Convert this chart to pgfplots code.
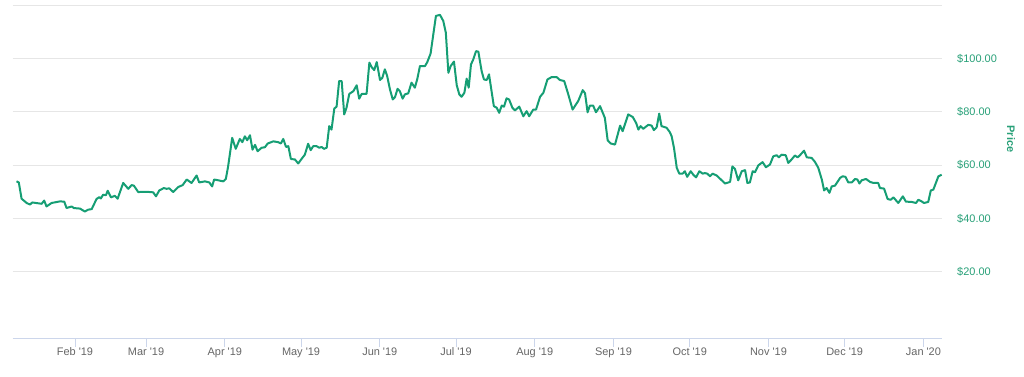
\documentclass[border=0pt]{standalone}
\usepackage{pgfplots}
\pgfplotsset{compat=1.18}
\usepackage{fontspec}
\setmainfont{Liberation Sans}
\definecolor{ln}{RGB}{22,158,116}
\definecolor{lab}{RGB}{40,160,120}
\definecolor{grd}{RGB}{230,230,230}
\definecolor{axl}{RGB}{204,214,235}
\definecolor{xl}{RGB}{102,102,102}
\begin{document}
\begin{tikzpicture}[x=1bp,y=1bp]
\path[use as bounding box] (0,0) rectangle (1024,376);
\begin{axis}[
  at={(12.7bp,38bp)}, anchor=south west,
  scale only axis, width=929bp, height=333bp,
  xmin=6.5, xmax=372.2, ymin=-4.8, ymax=120,
  separate axis lines,
  axis x line*=bottom, axis y line*=right,
  x axis line style={draw=axl, line width=0.8bp},
  y axis line style={draw=none},
  ymajorgrids, grid style={draw=grd, line width=0.8bp},
  ytick={20,40,60,80,100,120},
  yticklabels={\$20.00,\$40.00,\$60.00,\$80.00,\$100.00,},
  ytick style={draw=none},
  yticklabel style={font=\fontsize{11}{13}\selectfont, text=lab, anchor=west, xshift=12bp},
  xtick={31,59,90,120,151,181,212,243,273,304,334,365},
  xticklabels={Feb \textquotesingle19,Mar \textquotesingle19,Apr \textquotesingle19,May \textquotesingle19,Jun \textquotesingle19,Jul \textquotesingle19,Aug \textquotesingle19,Sep \textquotesingle19,Oct \textquotesingle19,Nov \textquotesingle19,Dec \textquotesingle19,Jan \textquotesingle20},
  xtick align=outside, major tick length=9bp,
  xtick style={draw=axl, line width=0.8bp},
  xticklabel style={font=\fontsize{11}{13}\selectfont, text=xl, yshift=2.5bp},
  clip=false,
]
\addplot[ln, line width=2bp, line join=round] coordinates {
(8.0,53.9)(8.9,53.5)(10.0,47.4)(12.0,45.8)(13.3,45.2)(14.2,46.0)(17.9,45.5)(18.9,46.7)(19.8,44.5)(21.8,45.8)
(25.1,46.4)(26.8,46.3)(27.7,43.9)(29.7,44.5)(30.6,43.9)(33.0,43.7)(34.9,42.6)(36.2,43.3)(37.6,43.5)(39.5,47.3)
(40.6,48.0)(41.2,47.5)(42.1,48.9)(43.2,48.7)(43.9,50.4)(45.2,47.9)(46.7,48.5)(47.8,47.4)(50.0,53.3)(52.0,51.1)
(53.3,52.5)(54.2,52.3)(55.9,49.9)(59.2,50.0)(61.8,49.8)(62.9,48.3)(64.2,50.5)(66.0,51.4)(67.1,51.1)(68.1,51.3)
(69.7,49.9)(71.7,51.8)(73.4,52.5)(75.0,54.6)(76.9,53.3)(78.9,56.1)(79.9,53.5)(82.2,53.9)(83.9,53.5)(85.0,52.0)
(85.8,54.6)(87.4,54.3)(89.4,53.9)(90.4,54.8)(91.3,59.5)(92.9,70.2)(94.3,66.1)(95.9,69.8)(96.9,68.6)(97.9,70.8)
(98.8,69.3)(99.9,71.2)(100.9,65.8)(101.9,67.6)(102.9,65.2)(104.5,66.5)(105.8,66.7)(106.9,68.1)(109.1,68.9)(111.0,68.6)
(112.1,68.1)(113.0,69.8)(114.1,66.8)(115.0,67.1)(116.0,62.3)(117.6,62.1)(118.9,60.6)(120.2,62.3)(121.5,63.9)(122.8,68.0)
(123.8,65.6)(124.8,67.1)(126.1,67.1)(127.2,66.5)(128.1,66.8)(129.0,66.1)(130.1,66.5)(131.1,74.6)(132.0,73.3)(133.1,81.2)
(134.0,81.9)(135.0,91.5)(136.0,91.5)(137.0,79.0)(137.9,81.5)(139.0,86.7)(140.6,87.7)(141.9,89.9)(142.9,84.9)(143.9,86.7)
(145.8,86.7)(146.9,98.4)(147.8,96.7)(148.8,95.6)(149.8,98.6)(151.1,91.9)(152.0,92.7)(153.0,95.9)(153.9,93.4)(155.0,88.4)
(156.1,84.6)(157.0,85.5)(158.0,88.6)(158.9,87.7)(160.0,84.9)(160.9,86.5)(162.2,86.9)(163.5,90.9)(164.8,89.0)(165.8,92.4)
(166.8,97.1)(168.8,97.1)(169.7,98.6)(171.0,101.8)(173.1,115.9)(174.7,116.3)(176.0,114.0)(177.0,109.6)(178.0,94.6)(178.9,97.1)
(180.2,98.8)(181.3,89.9)(182.3,86.5)(183.2,85.6)(184.3,87.1)(185.2,92.4)(186.0,89.0)(186.9,97.7)(187.8,99.6)(188.9,102.7)
(189.8,102.5)(191.1,95.2)(192.0,92.1)(193.1,91.9)(194.0,94.0)(195.0,87.7)(195.9,82.1)(197.0,81.5)(198.0,79.6)(199.0,82.3)
(199.9,81.9)(200.9,85.0)(201.9,84.6)(203.2,81.5)(204.2,80.5)(205.9,81.9)(207.5,78.3)(208.8,80.2)(209.8,78.3)(211.4,80.8)
(212.5,80.8)(214.1,85.6)(215.4,87.1)(217.0,92.1)(218.7,93.0)(220.6,93.0)(221.9,91.9)(223.6,91.5)(225.2,86.5)(226.9,80.8)
(229.1,84.0)(230.9,88.1)(231.8,86.9)(232.8,79.8)(233.7,82.3)(235.0,82.3)(236.1,79.8)(237.7,82.1)(239.6,77.7)(240.7,69.3)
(241.9,68.1)(243.6,67.7)(245.6,74.8)(246.6,72.7)(248.8,79.0)(250.6,78.0)(251.9,75.8)(252.8,73.3)(253.7,74.6)(254.7,73.6)
(256.7,75.1)(258.0,74.8)(258.9,73.1)(260.0,74.2)(261.0,79.3)(261.9,74.6)(263.9,74.0)(265.2,72.3)(265.9,70.8)(266.8,66.5)
(267.9,59.0)(268.9,56.8)(270.2,56.8)(271.1,57.7)(272.0,55.6)(273.4,57.7)(274.4,56.4)(275.5,55.4)(276.8,57.7)(278.1,56.8)
(279.0,57.0)(279.9,56.8)(281.0,55.8)(282.0,56.8)(283.6,56.1)(285.6,54.3)(286.9,53.1)(288.9,53.7)(289.8,59.5)(290.8,58.6)
(292.1,54.3)(293.5,57.7)(294.8,58.1)(295.7,53.3)(296.7,53.5)(297.8,57.7)(298.7,57.3)(300.0,59.9)(301.7,61.1)(303.0,59.2)
(304.6,60.2)(305.9,63.3)(307.2,63.7)(308.1,62.9)(309.2,63.9)(310.8,63.7)(311.8,60.8)(313.1,62.1)(314.4,63.6)(315.5,62.9)
(316.4,63.7)(318.0,65.4)(319.1,62.9)(321.0,62.7)(322.3,61.2)(323.6,59.0)(325.0,54.6)(325.9,50.5)(326.9,51.4)(328.0,49.6)
(328.9,52.0)(330.2,52.3)(332.2,55.2)(333.2,55.8)(334.3,55.6)(335.4,53.5)(336.8,53.5)(338.1,54.8)(339.0,54.6)(339.8,53.1)
(340.7,54.3)(342.4,54.8)(344.0,53.7)(345.3,53.3)(347.2,53.3)(347.9,51.4)(349.5,51.2)(350.9,47.3)(352.1,47.0)(353.2,47.9)
(355.1,45.8)(356.9,48.3)(358.1,46.3)(360.4,46.2)(362.1,45.8)(363.0,47.0)(364.3,46.4)(365.2,45.8)(366.9,46.2)(367.9,50.5)
(368.9,50.8)(370.9,55.8)(372.2,56.4)
};
\end{axis}
\node[rotate=-90, text=lab, font=\bfseries\fontsize{11}{13}\selectfont] at (1011,237) {Price};
\end{tikzpicture}
\end{document}
